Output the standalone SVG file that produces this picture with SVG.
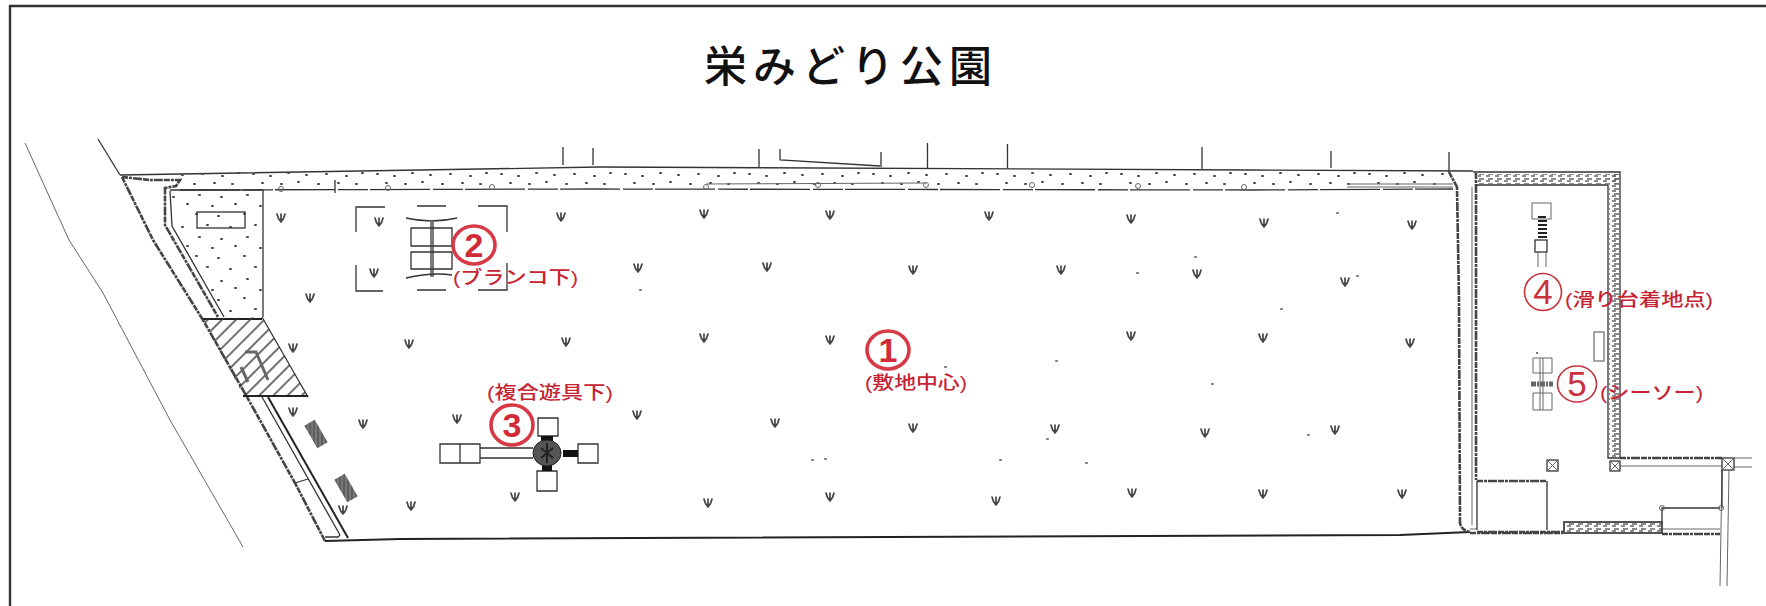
<svg xmlns="http://www.w3.org/2000/svg" width="1766" height="606" viewBox="0 0 1766 606">
<style>
.l{fill:none;stroke:#333;stroke-width:1.3}
.t{fill:none;stroke:#666;stroke-width:1}
.k{fill:none;stroke:#222;stroke-width:2}
.g{fill:none;stroke:#444;stroke-width:2.6;stroke-dasharray:6 1 3 1 9 1}
.b{fill:#fff;stroke:#333;stroke-width:1.3}
.tuft{fill:none;stroke:#444;stroke-width:1.7;stroke-linecap:round}
.c{fill:none;stroke:#d63a46;stroke-width:3.6}
.c2{fill:none;stroke:#c8333d;stroke-width:1.6}
.n{font-family:"Liberation Sans",sans-serif;font-size:34px;font-weight:700;fill:#cf2b38;text-anchor:middle}
.n2{font-family:"Liberation Sans",sans-serif;font-size:35px;fill:#c8333d;text-anchor:middle}
.r{font-family:"Liberation Sans","Noto Sans CJK JP",sans-serif;font-size:18px;font-weight:500;fill:#c62433}
.title{font-family:"Noto Sans CJK JP",sans-serif;font-size:43px;font-weight:500;fill:#111;letter-spacing:6px}
</style>
<defs>
<g id="grass"><path class="tuft" d="M0 5V-3M-4 -3Q-3 2 0 5M4 -3Q3 2 0 5"/></g>
<pattern id="strip" width="124" height="17" patternUnits="userSpaceOnUse" y="171">
<path d="M5 3h1M22 5h1M40 2h1M58 4h1M78 3h1M98 5h1M114 2h1M14 12h1M33 13h1M50 11h1M70 13h1M90 12h1M108 13h1" stroke="#444" stroke-width="2" stroke-linecap="round"/>
</pattern>
<pattern id="sand" width="48" height="42" patternUnits="userSpaceOnUse">
<path d="M4 4h1M26 6h1M15 15h1M38 17h1M7 27h1M29 29h1M20 38h1M43 36h1" stroke="#444" stroke-width="2" stroke-linecap="round"/>
</pattern>
<pattern id="hatch" width="10" height="10" patternUnits="userSpaceOnUse" patternTransform="rotate(-45)">
<path d="M0 3H10" stroke="#333" stroke-width="1.4"/>
</pattern>
<pattern id="speck" width="9" height="5" patternUnits="userSpaceOnUse">
<path d="M1 1h4M3 4h5" stroke="#666" stroke-width="1.6"/>
</pattern>
<pattern id="benchfill" width="4" height="4" patternUnits="userSpaceOnUse" patternTransform="rotate(30)">
<rect width="4" height="4" fill="#777"/><path d="M0 2H4" stroke="#444"/>
</pattern>
</defs>
<rect width="1766" height="606" fill="#fff"/>
<path d="M10 606V6H1766" fill="none" stroke="#333" stroke-width="2.4"/>
<text class="title" x="704" y="82">栄みどり公園</text>

<g id="site-lines">
<path class="t" d="M25 143L69 240L103 293L170 420L243 547" stroke-width="1.3"/>
<path class="l" d="M98 139L120 175"/>
<path class="g" d="M122 177L153 240L203 320L247 397L295 483L325 541"/>
<path class="l" d="M120 175L600 167L1250 170L1473 171"/>
<path class="l" d="M180 190L600 189L1250 190L1453 189" stroke-dasharray="60 3 30 2"/>
<rect x="180" y="171" width="1273" height="17" fill="url(#strip)"/>
<path class="t" d="M706 184L926 183M1347 184H1453M1347 187H1453"/>
<path class="g" d="M122 177L150 180L180 180L176 186L165 188L165 225L218 317" stroke-width="2"/>
<path class="l" d="M170 191L172 226L224 317"/>
<path class="l" d="M170 190H263V317"/>
<path d="M172 192H262V316H222L172 226Z" fill="url(#sand)"/>
<rect class="l" x="197" y="212" width="48" height="16"/>
<path class="k" d="M203 319H262"/>
<path d="M203 319L262 317L308 397L243 395Z" fill="url(#hatch)"/>
<path class="l" d="M262 317L308 397"/>
<path class="k" d="M243 396H308"/>
<path d="M241 367L248 382M245 352H256L268 380" fill="none" stroke="#666" stroke-width="3"/>
<path class="l" d="M262 397L340 535"/>
<path class="k" d="M268 397L348 538"/>
<path class="l" d="M295 483L308 479M325 537H338L340 535"/>
<rect x="-13" y="-6" width="26" height="12" fill="url(#benchfill)" transform="translate(316 434) rotate(60)"/>
<rect x="-13" y="-6" width="26" height="12" fill="url(#benchfill)" transform="translate(346 488) rotate(60)"/>
<path class="k" d="M325 541L400 539L1400 535L1470 532"/>
<path class="g" d="M1470 533H1563M1662 534H1720" stroke-width="2"/>
<path class="t" d="M1470 529H1477M1662 529H1720"/>
</g>

<g id="fence-posts">
<path class="l" d="M563 147V165M593 148V165M759 149V167M780 149V160L880 166M881 152V167M927.500 143V168M1007.500 144V168M1202 147V169M1331 151V168M1449 152V172M335 180V193"/>
<g class="t"><circle cx="281" cy="189" r="2.500"/><circle cx="388" cy="188" r="2.500"/><circle cx="492" cy="187" r="2.500"/><circle cx="706" cy="187" r="2.500"/><circle cx="818" cy="185" r="2.500"/><circle cx="926" cy="185" r="2.500"/><circle cx="1032" cy="185" r="2.500"/><circle cx="1138" cy="186" r="2.500"/><circle cx="1244" cy="187" r="2.500"/></g>
</g>

<g id="east-yard">
<path class="g" d="M1449 172L1457 187L1459 300L1460 523Q1461 530 1470 532"/>
<path class="t" d="M1472 187V525"/>
<path class="g" d="M1476 173V480" stroke="#222"/>
<path class="l" d="M1473 172H1620V458M1477 185H1608V458H1620"/>
<rect x="1478" y="174" width="142" height="10" fill="url(#speck)"/>
<rect x="1609" y="174" width="11" height="284" fill="url(#speck)"/>
<path class="g" d="M1620 458H1722"/>
<path class="t" d="M1620 466H1722M1734 458H1752M1734 467H1752"/>
<rect class="l" x="1722" y="458" width="12" height="12"/>
<path class="t" d="M1722 458L1734 470M1734 458L1722 470"/>
<rect class="l" x="1610" y="461" width="10" height="10"/>
<path class="t" d="M1610 461L1620 471M1620 461L1610 471"/>
<rect class="l" x="1547" y="460" width="11" height="11"/>
<path class="t" d="M1547 460L1558 471M1558 460L1547 471"/>
<path class="g" d="M1477 481H1547"/>
<path class="l" d="M1477 481V530M1547 481V530"/>
<path class="g" d="M1477 532H1563" stroke-width="2"/>
<rect x="1564" y="522" width="98" height="11" fill="url(#speck)" stroke="#444" stroke-width="1.800"/>
<path class="l" d="M1662 522V508H1720"/>
<path class="t" d="M1722 470L1720 586M1729 470L1727 586"/>
<path class="l" d="M1722 470V508"/>
<circle class="t" cx="1662" cy="508" r="2.500"/><circle class="t" cx="1721" cy="508" r="2.500"/>
</g>

<g id="grass-tufts">
<use href="#grass" x="281" y="217"/><use href="#grass" x="379" y="221"/><use href="#grass" x="374" y="272"/><use href="#grass" x="310" y="297"/><use href="#grass" x="561" y="216"/><use href="#grass" x="409" y="343"/><use href="#grass" x="566" y="341"/><use href="#grass" x="293" y="347"/><use href="#grass" x="293" y="411"/><use href="#grass" x="363" y="423"/><use href="#grass" x="457" y="418"/><use href="#grass" x="515" y="496"/><use href="#grass" x="411" y="505"/><use href="#grass" x="343" y="509"/>
<use href="#grass" x="704" y="213"/><use href="#grass" x="830" y="214"/><use href="#grass" x="989" y="215"/><use href="#grass" x="1131" y="218"/><use href="#grass" x="638" y="267"/><use href="#grass" x="767" y="266"/><use href="#grass" x="913" y="269"/><use href="#grass" x="1061" y="269"/><use href="#grass" x="1197" y="273"/><use href="#grass" x="704" y="337"/><use href="#grass" x="830" y="339"/><use href="#grass" x="1131" y="335"/><use href="#grass" x="637" y="414"/><use href="#grass" x="775" y="422"/><use href="#grass" x="913" y="427"/><use href="#grass" x="1055" y="428"/><use href="#grass" x="1205" y="432"/><use href="#grass" x="708" y="502"/><use href="#grass" x="830" y="496"/><use href="#grass" x="996" y="500"/><use href="#grass" x="1132" y="492"/>
<use href="#grass" x="1264" y="222"/><use href="#grass" x="1412" y="224"/><use href="#grass" x="1345" y="281"/><use href="#grass" x="1263" y="337"/><use href="#grass" x="1410" y="342"/><use href="#grass" x="1335" y="429"/><use href="#grass" x="1263" y="493"/><use href="#grass" x="1402" y="493"/>
<path d="M1337 213h1M1357 276h1M1281 309h1M1308 435h1M1195 257h1M1137 273h1M945 367h1M1047 439h1M1056 361h1M1212 384h1M825 459h1M812 460h1M640 290h1M1086 463h1M1000 460h1" stroke="#777" stroke-width="2" stroke-linecap="round"/>
</g>

<g id="swing">
<path class="l" d="M356 232V207H385M417 206H446M478 206H507V232M356 265V291H383M417 290H446M478 290H507V263"/>
<path class="l" d="M406 218Q432 224 457 218M406 278Q432 272 452 275"/>
<path class="b" d="M411 228H452V246H411ZM411 252H452V269H411Z"/>
<path class="l" d="M431 222V277M433 222V277"/>
</g>

<g id="play-structure">
<path class="b" d="M538 418H558V436H538ZM537 471H557V491H537ZM578 444H598V463H578ZM440 444H460V463H440ZM460 444H480V463H460Z"/>
<path class="l" d="M480 448H533M480 458H533"/>
<path d="M541 436H553V441H541ZM563 450H578V457H563ZM542 463H552V471H542Z" fill="#111"/>
<ellipse cx="547" cy="453" rx="14" ry="13" fill="#555" stroke="#222"/>
<path d="M541 448L553 458M553 448L541 458M547 443V463" stroke="#222" stroke-width="2"/>
</g>

<g id="slide">
<rect class="t" x="1532" y="203" width="19" height="16"/>
<path d="M1538 217H1546M1538 221H1547M1538 225H1547M1538 229H1547M1538 233H1547M1538 237H1547" stroke="#222" stroke-width="2"/>
<rect class="l" x="1535" y="240" width="12" height="12" stroke-width="2"/>
<path class="t" d="M1538 252V267M1546 252V267"/>
</g>

<g id="bench"><rect x="1594" y="332" width="10" height="29" fill="none" stroke="#888" stroke-width="1.500"/></g>

<g id="seesaw">
<path class="t" d="M1533 358H1552V373H1533ZM1533 393H1552V410H1533ZM1540 358V410M1543 358V410"/>
<path d="M1531 384H1553" stroke="#666" stroke-width="5" stroke-dasharray="5 1 2 1"/>
<circle cx="1537" cy="353" r="1" fill="#444"/>
</g>

<g id="label-1"><ellipse class="c" cx="888" cy="350" rx="21" ry="19"/><text class="n" x="888" y="362">1</text><text class="r" x="865" y="389" textLength="102" lengthAdjust="spacingAndGlyphs">(敷地中心)</text></g>
<g id="label-2"><ellipse class="c" cx="474" cy="245" rx="21" ry="19"/><text class="n" x="474" y="257">2</text><text class="r" x="453" y="284" textLength="125" lengthAdjust="spacingAndGlyphs">(ブランコ下)</text></g>
<g id="label-3"><ellipse class="c" cx="512" cy="425" rx="21" ry="20"/><text class="n" x="512" y="437">3</text><text class="r" x="487" y="399" textLength="126" lengthAdjust="spacingAndGlyphs">(複合遊具下)</text></g>
<g id="label-4"><ellipse class="c2" cx="1543" cy="292" rx="18.500" ry="18.500"/><text class="n2" x="1543" y="304">4</text><text class="r" x="1565" y="306" textLength="148" lengthAdjust="spacingAndGlyphs">(滑り台着地点)</text></g>
<g id="label-5"><ellipse class="c2" cx="1577" cy="384" rx="19.500" ry="18"/><text class="n2" x="1577" y="396">5</text><text class="r" x="1600" y="399" textLength="103" lengthAdjust="spacingAndGlyphs">(シーソー)</text></g>
</svg>
